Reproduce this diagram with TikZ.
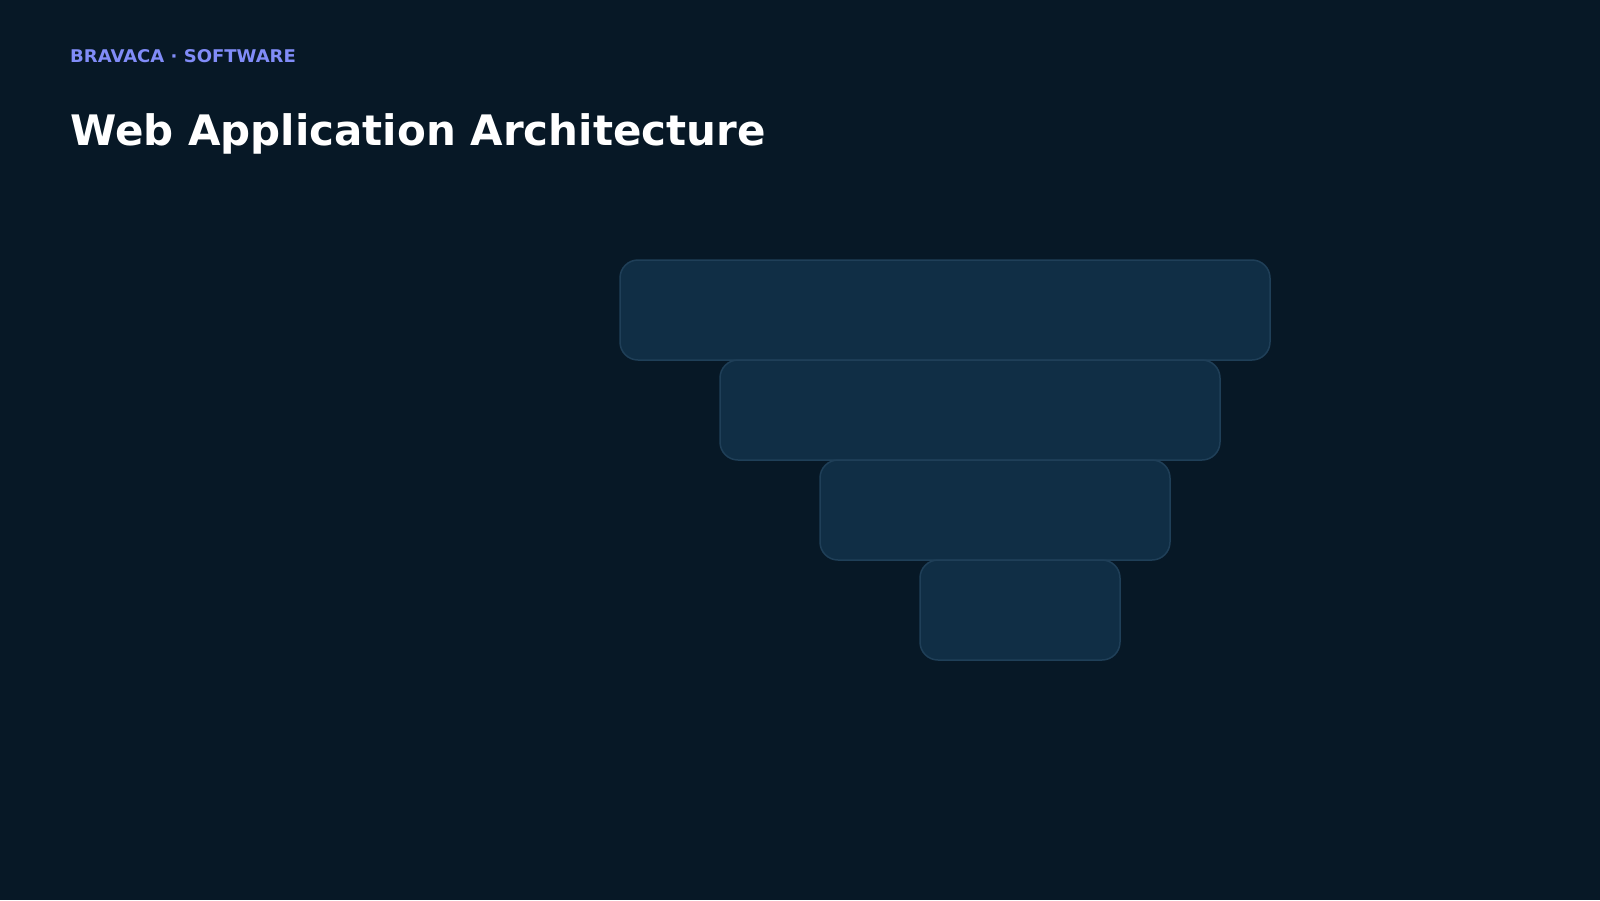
\documentclass[tikz,border=0pt]{standalone}
\usepackage{fontspec}
\setmainfont{DejaVu Sans}
\usepackage{tikz}
\usetikzlibrary{positioning}

\definecolor{pagebg}{RGB}{7,24,38}
\definecolor{tierfill}{RGB}{16,46,69}
\definecolor{tierline}{RGB}{31,63,88}
\definecolor{brandtext}{RGB}{129,140,248}

\tikzset{
    tier/.style={draw=tierline, fill=tierfill, line width=1.5pt,
        rounded corners=18pt, minimum height=100pt, inner sep=0pt},
    brand/.style={anchor=base west, inner sep=0pt, text=brandtext,
        font=\fontsize{17.5}{20}\selectfont\bfseries},
    heading/.style={anchor=base west, inner sep=0pt, text=white,
        font=\fontsize{42}{48}\selectfont\bfseries}
}

\begin{document}
\begin{tikzpicture}[x=1pt, y=-1pt]
        % Background
        \fill[pagebg] (0,0) rectangle (1600,900);
        \useasboundingbox (0,0) rectangle (1600,900);
        % Header
        \node[brand, xscale=1.03] (brand) at (70,62) {BRAVACA · SOFTWARE};
        \node[heading] (title) at (70,145) {Web Application Architecture};
        % Tiers, widest on top
        \node[tier, minimum width=650pt] (tier1) at (945,310) {};
        \node[tier, minimum width=500pt] (tier2) at (970,410) {};
        \node[tier, minimum width=350pt] (tier3) at (995,510) {};
        \node[tier, minimum width=200pt] (tier4) at (1020,610) {};
    \end{tikzpicture}
\end{document}
